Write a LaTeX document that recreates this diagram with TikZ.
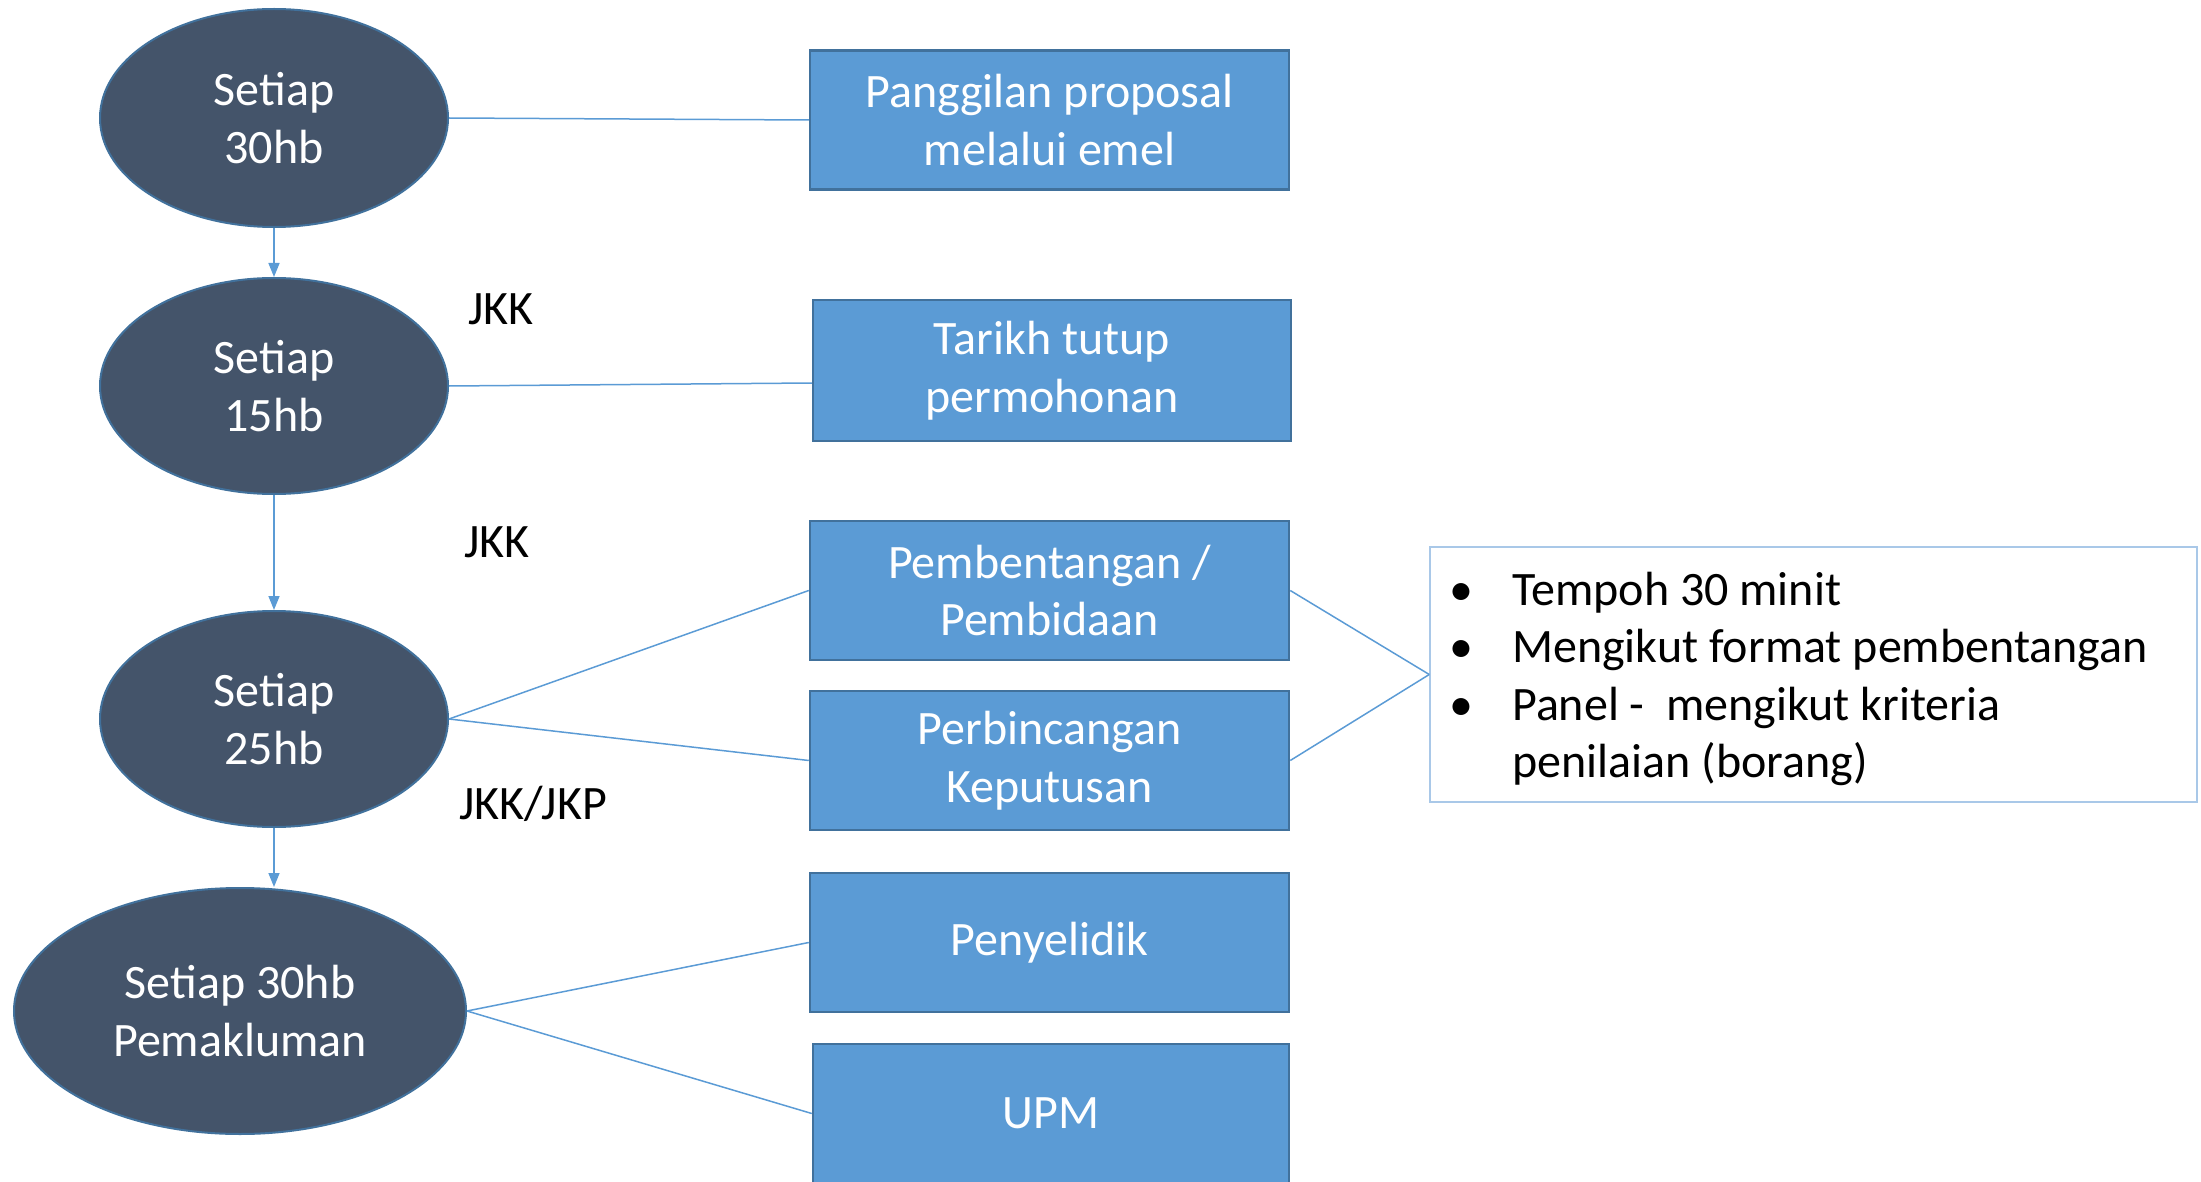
\documentclass[tikz,border=0pt]{standalone}
\usepackage{fontspec}
\setmainfont{Carlito}
\usetikzlibrary{shapes.geometric,arrows.meta}
\definecolor{ellfill}{HTML}{44546A}
\definecolor{boxfill}{HTML}{5B9BD5}
\definecolor{boxline}{HTML}{41719C}
\definecolor{linecol}{HTML}{5B9BD5}
\definecolor{tbline}{HTML}{A9C8E8}
\newcommand{\bigfont}{\fontsize{48}{57.5}\selectfont}
\newcommand{\bul}{\makebox[63pt][l]{•}}
\begin{document}
\begin{tikzpicture}[x=1pt,y=-1pt,
  ell/.style={ellipse, draw=boxline, line width=2pt, fill=ellfill, text=white, align=center, inner sep=0pt, font=\bigfont},
  box/.style={rectangle, draw=boxline, line width=2.5pt, fill=boxfill, text=white, align=center, minimum width=479pt, minimum height=139pt, inner sep=0pt, font=\bigfont},
  conn/.style={draw=linecol, line width=1.5pt},
  arr/.style={conn, -{Triangle[length=14pt,width=11pt]}},
  lbl/.style={text=black, font=\bigfont, inner sep=0pt}]
\useasboundingbox (0,0) rectangle (2201,1182);
\clip (0,0) rectangle (2201,1182);
% ellipses
\node[ell, minimum width=348pt, minimum height=218pt] (e1) at (274,118) {Setiap\\30hb};
\node[ell, minimum width=348pt, minimum height=216pt] (e2) at (274,386) {Setiap\\15hb};
\node[ell, minimum width=348pt, minimum height=216pt] (e3) at (274,719) {Setiap\\25hb};
\node[ell, minimum width=452pt, minimum height=246pt] (e4) at (240,1011) {Setiap 30hb\\Pemakluman};
% boxes
\node[box] (b1) at (1049.5,120) {Panggilan proposal\\melalui emel};
\node[box, minimum width=478pt, minimum height=141pt] (b2) at (1052,370.5) {Tarikh tutup\\permohonan};
\node[box] (b3) at (1049.5,590.5) {Pembentangan /\\Pembidaan};
\node[box] (b4) at (1049.5,760.5) {Perbincangan\\Keputusan};
\node[box] (b5) at (1049.5,942.5) {Penyelidik};
\node[box, minimum width=476pt] (b6) at (1051,1113.5) {UPM};
% text box
\node[draw=tbline, line width=1.5pt, fill=white, minimum width=767pt, minimum height=255pt, inner sep=0pt] (tb) at (1813.5,674.5) {};
\node[anchor=west, align=left, inner sep=0pt, font=\bigfont, text=black] (tl) at (1449,679)
 {\bul Tempoh 30 minit\\ \bul Mengikut format pembentangan\\ \bul Panel -\ \ mengikut kriteria\\ \hspace*{63pt}penilaian (borang)};
% labels
\node[lbl] (l1) at (501,309) {JKK};
\node[lbl] (l2) at (497,542) {JKK};
\node[lbl] (l3) at (533,804) {JKK/JKP};
% arrows
\draw[arr] (e1.south) -- (e2.north);
\draw[arr] (e2.south) -- (e3.north);
\draw[arr] (e3.south) -- (e3.south |- e4.north);
% connectors
\draw[conn] (e1.east) -- (b1.west);
\draw[conn] (e2.east) -- ([yshift=-12.5pt]b2.west);
\draw[conn] (e3.east) -- (b3.west);
\draw[conn] (e3.east) -- (b4.west);
\draw[conn] (e4.east) -- (b5.west);
\draw[conn] (e4.east) -- (b6.west);
\draw[conn] (b3.east) -- (tb.west);
\draw[conn] (b4.east) -- (tb.west);
\end{tikzpicture}
\end{document}
